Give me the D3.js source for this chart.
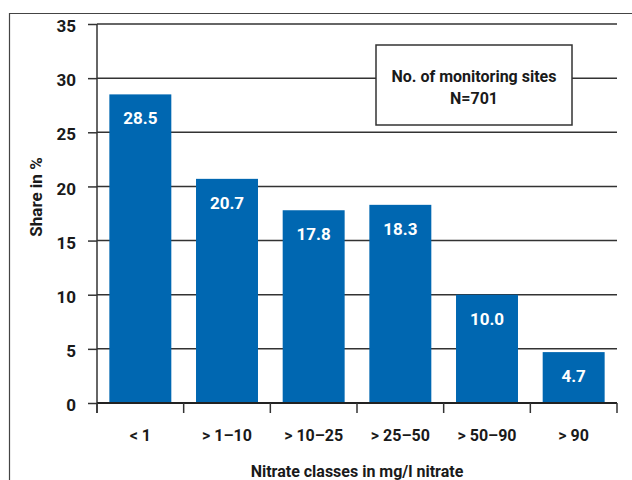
<!DOCTYPE html>
<html>
<head>
<meta charset="utf-8">
<script src="https://cdn.jsdelivr.net/npm/d3@7"></script>
<style>
  html, body { margin: 0; padding: 0; background: #fff; }
  svg { display: block; }
  text { font-family: "Roboto", "DejaVu Sans Condensed", sans-serif; font-weight: bold; fill: #1a1a1a; }
</style>
</head>
<body>
<svg id="chart" width="632" height="480"></svg>
<script>
// Nitrate concentration classes and share of monitoring sites (%)
const categories = ["< 1", "> 1–10", "> 10–25", "> 25–50", "> 50–90", "> 90"];
const shares = [28.5, 20.7, 17.8, 18.3, 10.0, 4.7];
const yTicks = [0, 5, 10, 15, 20, 25, 30, 35];
const legendLines = ["No. of monitoring sites", "N=701"];

const svg = d3.select("#chart");
const W = 632, H = 480;
const m = { left: 97, right: 617, top: 24, bottom: 403 };

const x = d3.scaleBand().domain(categories).range([m.left, m.right]).paddingInner(0.285).paddingOuter(0.1425);
const y = d3.scaleLinear().domain([0, 35]).range([m.bottom, m.top]);

// outer frame
svg.append("path")
  .attr("d", `M9.5,${H} V13.5 H${W}`)
  .attr("fill", "none").attr("stroke", "#444").attr("stroke-width", 1.2);

// horizontal gridlines
svg.append("g").selectAll("line").data(yTicks.filter(d => d > 0)).join("line")
  .attr("x1", m.left).attr("x2", m.right)
  .attr("y1", d => y(d)).attr("y2", d => y(d))
  .attr("stroke", "#333").attr("stroke-width", 1.5);

// bars
const bars = svg.append("g");
bars.selectAll("rect").data(shares).join("rect")
  .attr("x", (d, i) => x(categories[i]))
  .attr("width", x.bandwidth())
  .attr("y", d => y(d))
  .attr("height", d => y(0) - y(d))
  .attr("fill", "#0067b1");

// value labels inside bars
bars.selectAll("text").data(shares).join("text")
  .attr("x", (d, i) => x(categories[i]) + x.bandwidth() / 2)
  .attr("y", d => y(d) + 30)
  .attr("text-anchor", "middle")
  .style("fill", "#fff")
  .style("font-size", "17px")
  .text(d => d.toFixed(1));

// y axis
const yAxis = d3.axisLeft(y).tickValues(yTicks).tickSize(9).tickPadding(12);
const gy = svg.append("g").attr("transform", `translate(${m.left},0)`).call(yAxis);
gy.select(".domain").attr("d", `M0,${m.top} V${m.bottom + 10}`).attr("stroke", "#333").attr("stroke-width", 1.5);
gy.selectAll(".tick line").attr("stroke", "#333").attr("stroke-width", 1.5);
gy.selectAll(".tick text").style("font-size", "17px").attr("font-family", null).attr("dy", "0.45em");

// x axis: boundary ticks between classes
const bounds = d3.range(categories.length + 1).map(i =>
  i < categories.length ? x(categories[i]) - x.step() * x.paddingInner() / 2 : m.right);
const gx = svg.append("g");
gx.append("line").attr("x1", m.left).attr("x2", m.right).attr("y1", m.bottom).attr("y2", m.bottom)
  .attr("stroke", "#222").attr("stroke-width", 2);
gx.selectAll("line.tk").data(bounds).join("line").attr("class", "tk")
  .attr("x1", d => d).attr("x2", d => d).attr("y1", m.bottom).attr("y2", m.bottom + 10)
  .attr("stroke", "#333").attr("stroke-width", 1.5);
gx.selectAll("text").data(categories).join("text")
  .attr("x", d => x(d) + x.bandwidth() / 2)
  .attr("y", 441)
  .attr("text-anchor", "middle")
  .style("font-size", "16px")
  .text(d => d);

// axis titles
svg.append("text")
  .attr("x", (m.left + m.right) / 2).attr("y", 477)
  .attr("text-anchor", "middle").style("font-size", "16px")
  .text("Nitrate classes in mg/l nitrate");
svg.append("text")
  .attr("transform", "translate(42,197) rotate(-90)")
  .attr("text-anchor", "middle").style("font-size", "17px")
  .text("Share in %");

// legend box
const lg = svg.append("g");
lg.append("rect").attr("x", 376).attr("y", 45).attr("width", 196).attr("height", 80)
  .attr("fill", "#fff").attr("stroke", "#333").attr("stroke-width", 1.5);
lg.selectAll("text").data(legendLines).join("text")
  .attr("x", 474).attr("y", (d, i) => 82 + i * 22)
  .attr("text-anchor", "middle").style("font-size", "16px")
  .text(d => d);
</script>
</body>
</html>
